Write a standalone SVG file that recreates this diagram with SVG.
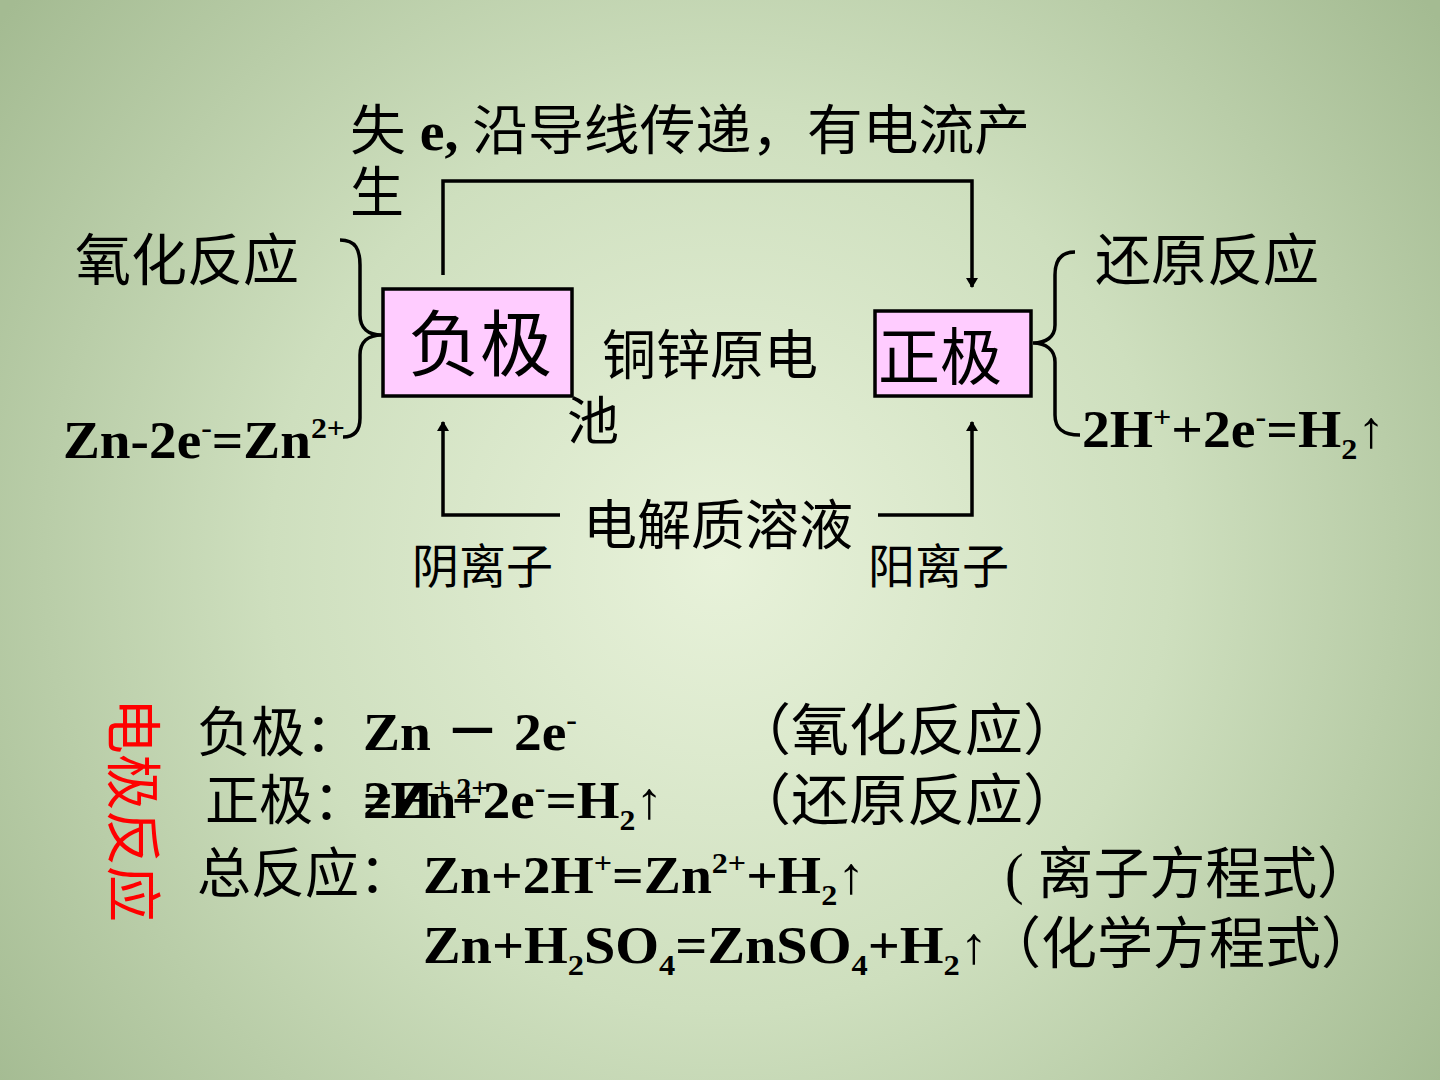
<svg xmlns="http://www.w3.org/2000/svg" width="1440" height="1080" viewBox="0 0 1440 1080">
<defs>
<radialGradient id="bg" cx="720" cy="560" r="900" gradientUnits="userSpaceOnUse">
<stop offset="0" stop-color="#E8F2DA"/>
<stop offset="0.5" stop-color="#CEDFBE"/>
<stop offset="1" stop-color="#A4BB92"/>
</radialGradient>
<marker id="arr" viewBox="0 0 10 20" refX="9" refY="10" markerWidth="10" markerHeight="20" markerUnits="userSpaceOnUse" orient="auto">
<path d="M0,4 L10,10 L0,16 Z" fill="#000"/>
</marker>
<style>
.t{font-family:"Liberation Serif","Noto Sans CJK SC",serif;fill:#000}
.b{font-family:"Liberation Serif","Noto Sans CJK SC",serif;font-weight:bold;fill:#000}
.line{fill:none;stroke:#000;stroke-width:3.5}
.box{fill:#FFCCFF;stroke:#000;stroke-width:3.5}
</style>
</defs>
<rect width="1440" height="1080" fill="url(#bg)"/>

<g id="connectors">
<path class="line" d="M443,275 L443,181 L972,181 L972,287" marker-end="url(#arr)"/>
<path class="line" d="M560,515 L443,515 L443,422" marker-end="url(#arr)"/>
<path class="line" d="M878,515 L972,515 L972,422" marker-end="url(#arr)"/>
<path class="line" d="M340,240 C356,240 360,250 360,265 L360,315 C360,328 368,335 382,335 C368,335 360,342 360,355 L360,418 C360,430 355,437 343,437"/>
<path class="line" d="M1075,252 C1060,252 1055,262 1055,275 L1055,325 C1055,337 1046,343 1033,343 C1046,343 1055,350 1055,362 L1055,415 C1055,428 1062,435 1080,435"/>
</g>

<g id="title">
<text class="t" x="350" y="150" font-size="54" textLength="680" lengthAdjust="spacingAndGlyphs">失 <tspan font-weight="bold">e,</tspan> 沿导线传递，有电流产</text>
<text class="t" x="350" y="212" font-size="54">生</text>
</g>

<g id="node-negative">
<rect class="box" x="383" y="289" width="189" height="107"/>
<text class="t" x="408" y="370" font-size="72">负极</text>
</g>

<g id="node-positive">
<rect class="box" x="875" y="311" width="156" height="85"/>
<text class="t" x="878" y="380" font-size="62">正极</text>
</g>

<g id="node-cell">
<text class="t" x="602" y="375" font-size="54">铜锌原电</text>
<text class="t" x="567" y="440" font-size="52">池</text>
</g>

<g id="node-oxidation">
<text class="t" x="75" y="280" font-size="56">氧化反应</text>
<text class="b" x="63" y="458" font-size="52" textLength="282" lengthAdjust="spacingAndGlyphs">Zn-2e<tspan font-size="30" dy="-20">-</tspan><tspan dy="20">=Zn</tspan><tspan font-size="30" dy="-20">2+</tspan></text>
</g>

<g id="node-reduction">
<text class="t" x="1095" y="280" font-size="56">还原反应</text>
<text class="b" x="1082" y="447" font-size="52" textLength="303" lengthAdjust="spacingAndGlyphs">2H<tspan font-size="30" dy="-20">+</tspan><tspan dy="20">+2e</tspan><tspan font-size="30" dy="-20">-</tspan><tspan dy="20">=H</tspan><tspan font-size="30" dy="12">2</tspan><tspan dy="-12">↑</tspan></text>
</g>

<g id="node-electrolyte">
<text class="t" x="583" y="545" font-size="54">电解质溶液</text>
<text class="t" x="412" y="583" font-size="47">阴离子</text>
<text class="t" x="868" y="583" font-size="47">阳离子</text>
</g>

<g id="electrode-reactions">
<text transform="translate(113,698) rotate(90)" font-family="Noto Sans CJK SC, sans-serif" font-size="56" fill="#FF0000">电极反应</text>
<text class="t" x="197" y="752" font-size="54">负极：</text>
<text class="b" x="363" y="750" font-size="52" textLength="214" lengthAdjust="spacingAndGlyphs">Zn － 2e<tspan font-size="30" dy="-20">-</tspan></text>
<text class="t" x="733" y="750" font-size="56" textLength="348" lengthAdjust="spacingAndGlyphs">（氧化反应）</text>

<text class="t" x="205" y="820" font-size="54">正极：</text>
<text class="b" x="363" y="818" font-size="52">=Zn<tspan font-size="30" dy="-20">2+</tspan></text>
<text class="b" x="363" y="818" font-size="52" textLength="300" lengthAdjust="spacingAndGlyphs">2H<tspan font-size="30" dy="-20">+</tspan><tspan dy="20">+2e</tspan><tspan font-size="30" dy="-20">-</tspan><tspan dy="20">=H</tspan><tspan font-size="30" dy="12">2</tspan><tspan dy="-12">↑</tspan></text>
<text class="t" x="733" y="820" font-size="56" textLength="348" lengthAdjust="spacingAndGlyphs">（还原反应）</text>

<text class="t" x="197" y="893" font-size="54">总反应：</text>
<text class="b" x="423" y="893" font-size="52" textLength="442" lengthAdjust="spacingAndGlyphs">Zn+2H<tspan font-size="30" dy="-20">+</tspan><tspan dy="20">=Zn</tspan><tspan font-size="30" dy="-20">2+</tspan><tspan dy="20">+H</tspan><tspan font-size="30" dy="12">2</tspan><tspan dy="-12">↑</tspan></text>
<text class="t" x="1005" y="893" font-size="56" textLength="368" lengthAdjust="spacingAndGlyphs">( 离子方程式）</text>
<text class="b" x="423" y="963" font-size="52" textLength="565" lengthAdjust="spacingAndGlyphs">Zn+H<tspan font-size="30" dy="12">2</tspan><tspan dy="-12">SO</tspan><tspan font-size="30" dy="12">4</tspan><tspan dy="-12">=ZnSO</tspan><tspan font-size="30" dy="12">4</tspan><tspan dy="-12">+H</tspan><tspan font-size="30" dy="12">2</tspan><tspan dy="-12">↑</tspan></text>
<text class="t" x="985" y="963" font-size="56" textLength="392" lengthAdjust="spacingAndGlyphs">（化学方程式）</text>
</g>
</svg>
